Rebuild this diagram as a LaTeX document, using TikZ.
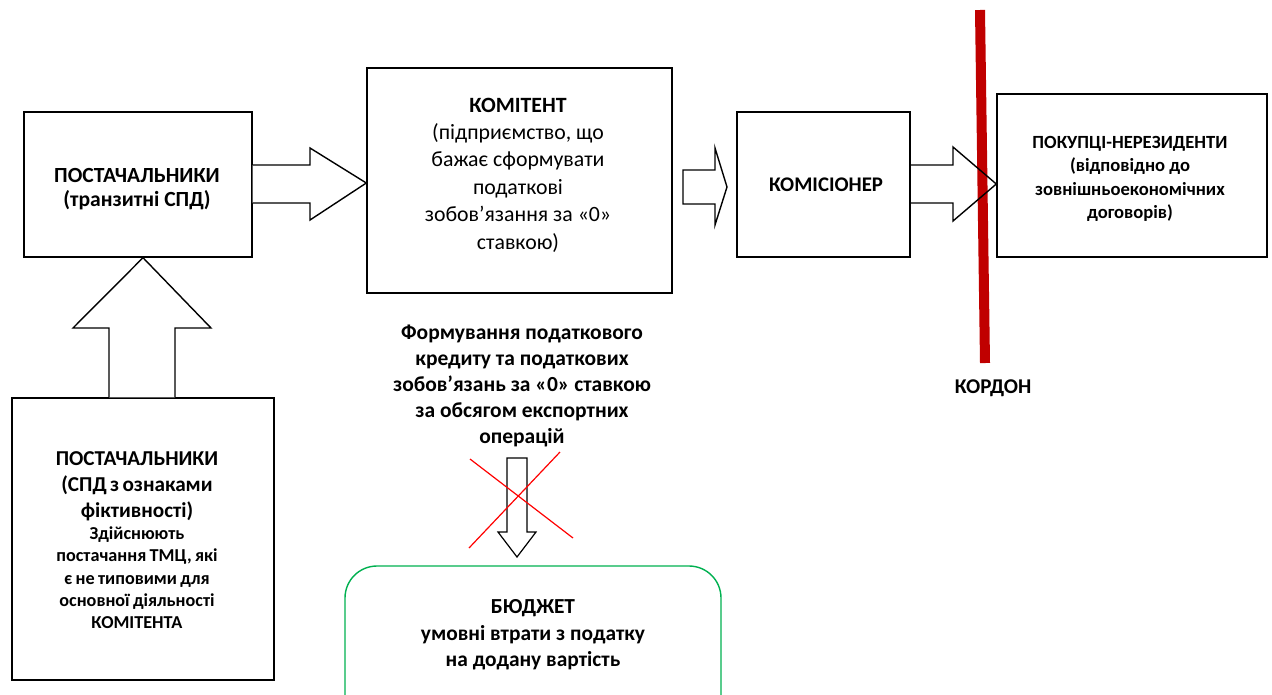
\documentclass[tikz,border=0pt]{standalone}
\usepackage{fontspec}
\setmainfont{Carlito}
\definecolor{borderred}{HTML}{C00000}
\definecolor{budgetgreen}{HTML}{00B050}
\newcommand{\fs}[2]{\fontsize{#1}{#2}\selectfont}
\begin{document}
\begin{tikzpicture}[x=1pt,y=-1pt,
  box/.style={draw=black, line width=1.4pt, fill=white, inner sep=0pt},
  blockarrow/.style={draw=black, line width=1.4pt, fill=white, line join=miter},
  label/.style={align=center, inner sep=0pt, text=black},
  cross/.style={draw=red, line width=1.2pt}
]
\useasboundingbox (0,0) rectangle (1272,694);
\clip (0,0) rectangle (1272,694);

% boxes
\node[box, minimum width=228pt, minimum height=145pt] (sup) at (138,184.5) {};
\node[box, minimum width=305pt, minimum height=225pt] (kom) at (519.5,180.5) {};
\node[box, minimum width=173pt, minimum height=145pt] (agent) at (823.5,184.5) {};
\node[box, minimum width=270pt, minimum height=163pt] (buyers) at (1132,175.5) {};
\node[box, minimum width=262pt, minimum height=282pt] (fict) at (143,539) {};
\node[draw=budgetgreen, line width=1.4pt, rounded corners=32pt, minimum width=376pt, minimum height=200pt, inner sep=0pt] (budget) at (533,666) {};

% block arrow: suppliers -> principal
\draw[blockarrow] (sup.east |- 0,165) -- (310,165) -- (310,148) -- (kom.west |- 0,183)
  -- (310,220) -- (310,203) -- (sup.east |- 0,203);
% block arrow: principal -> commission agent (narrow head)
\coordinate (smalltip) at (727,187);
\draw[blockarrow] (683,170) -- (715,170) -- (715,148) -- (smalltip)
  -- (715,225) -- (715,204) -- (683,204) -- cycle;
% block arrow: fictitious suppliers -> suppliers
\draw[blockarrow] (109,0 |- fict.north) -- (109,328) -- (73,328) -- (sup.south -| 143,0)
  -- (211,328) -- (175,328) -- (175,0 |- fict.north);

% customs border
\draw[borderred, line width=10pt] (980,10) coordinate (bt) -- (985,363) coordinate (bb);
\node[label, font=\bfseries\fs{21}{24}] (kordon) at (993,388) {КОРДОН};

% block arrow: commission agent -> non-resident buyers (outline over the border line)
\draw[blockarrow, fill=none] (agent.east |- 0,165) -- (953,165) -- (953,147) -- (buyers.west |- 0,184)
  -- (953,221) -- (953,203) -- (agent.east |- 0,203);

% down arrow to the budget, crossed out
\draw[blockarrow, line width=1.2pt] (507,458) -- (527,458) -- (527,532) -- (536,532) -- (517,557)
  -- (498,532) -- (507,532) -- cycle;
\draw[cross] (470,459) -- (573,538);
\draw[cross] (560,452) -- (469,548);

% texts
\node[label, font=\bfseries\fs{21.6}{24.5}] (supt) at (137,189) {ПОСТАЧАЛЬНИКИ\\(транзитні СПД)};
\node[label, font=\fs{21.8}{27.4}] (komt) at (518,175) {\textbf{КОМІТЕНТ}\\(підприємство, що\\бажає сформувати\\податкові\\зобов’язання за «0»\\ставкою)};
\node[label, font=\bfseries\fs{20.8}{24}] (agentt) at (826,185) {КОМІСІОНЕР};
\node[label, font=\bfseries\fs{18.6}{23.3}] (buyerst) at (1130,179) {ПОКУПЦІ-НЕРЕЗИДЕНТИ\\(відповідно до\\зовнішньоекономічних\\договорів)};
\node[label, font=\bfseries, text width=258pt] (fictt) at (137,540) {%
  {\fs{21.2}{26}ПОСТАЧАЛЬНИКИ\\(СПД з ознаками\\фіктивності)\par}%
  {\fs{18.2}{22.3}Здійснюють\\постачання ТМЦ, які\\є не типовими для\\основної діяльності\\КОМІТЕНТА\par}};
\node[label, font=\bfseries\fs{21.5}{26.2}] (taxt) at (522,386) {Формування податкового\\кредиту та податкових\\зобов’язань за «0» ставкою\\за обсягом експортних\\операцій};
\node[label, font=\bfseries\fs{21.4}{26.5}] (budgett) at (533,635) {БЮДЖЕТ\\умовні втрати з податку\\на додану вартість};
\end{tikzpicture}
\end{document}
